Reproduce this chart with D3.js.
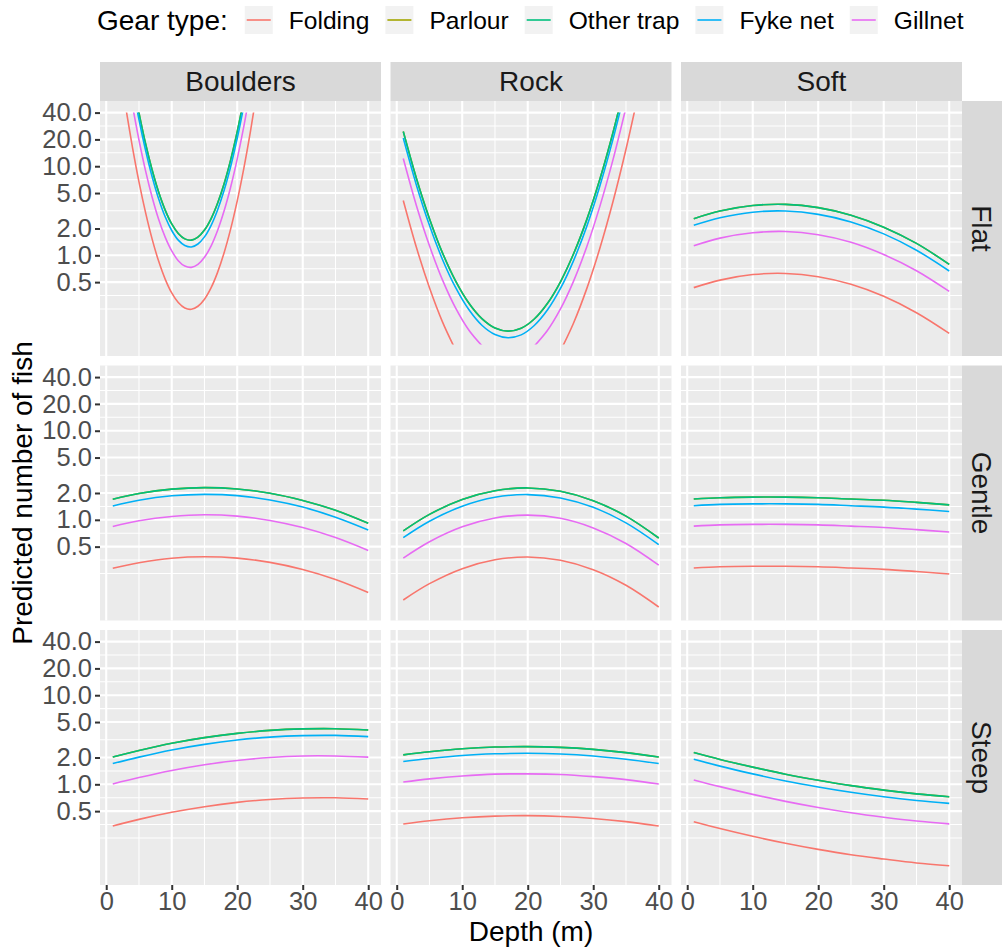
<!DOCTYPE html>
<html>
<head>
<meta charset="utf-8">
<script src="https://cdn.jsdelivr.net/npm/d3@7"></script>
<style>
  body { margin: 0; background: #ffffff; }
  text { font-family: "Liberation Sans", Arial, Helvetica, sans-serif; }
</style>
</head>
<body>
<svg id="chart" width="1002" height="950"></svg>
<script>
// ---- categories ----
const gears = ["Folding", "Parlour", "Other trap", "Fyke net", "Gillnet"];
const gearColors = ["#F8766D", "#A3A500", "#00BF7D", "#00B0F6", "#E76BF3"];
const substrates = ["Boulders", "Rock", "Soft"];
const slopes = ["Flat", "Gentle", "Steep"];

// ---- axis breaks ----
const yTicks = [0.5, 1, 2, 5, 10, 20, 40];
const yLimits = [0.1, 40];
const xTicks = [0, 10, 20, 30, 40];
const depthRange = [1, 40];

// ---- depths at which predictions are listed ----
const depthGrid = [1, 5, 10, 15, 20, 25, 30, 35, 40];
const depthBouldersFlat = [3, 4, 5, 6, 7, 8, 9, 10, 11, 12, 13, 14, 15, 16, 17, 18, 19, 20, 21, 22, 23];
const depthRockFlat = [1, 3, 5, 7, 9, 11, 13, 15, 17, 19, 21, 23, 25, 27, 29, 31, 33, 35, 37, 39];

// ---- predicted number of fish (null = outside the plotted range) ----
const bouldersFlat = {
  "Folding":    [44.8, 16.4, 6.67, 3.03, 1.53, 0.861, 0.541, 0.378, 0.295, 0.256, 0.248, 0.268, 0.322, 0.431, 0.644, 1.07, 1.98, 4.09, 9.42, 24.2, 69.0],
  "Parlour":    [null, 97.5, 39.7, 18.0, 9.12, 5.13, 3.22, 2.25, 1.76, 1.53, 1.48, 1.60, 1.92, 2.57, 3.84, 6.37, 11.8, 24.4, 56.1, null, null],
  "Other trap": [null, 97.5, 39.7, 18.0, 9.12, 5.13, 3.22, 2.25, 1.76, 1.53, 1.48, 1.60, 1.92, 2.57, 3.84, 6.37, 11.8, 24.4, 56.1, null, null],
  "Fyke net":   [null, 82.0, 33.4, 15.2, 7.67, 4.32, 2.71, 1.90, 1.48, 1.29, 1.24, 1.34, 1.61, 2.16, 3.23, 5.36, 9.93, 20.5, 47.2, null, null],
  "Gillnet":    [null, 48.3, 19.7, 8.93, 4.52, 2.54, 1.60, 1.12, 0.871, 0.757, 0.733, 0.791, 0.951, 1.27, 1.90, 3.16, 5.85, 12.1, 27.8, 71.3, null]
};
const rockFlat = {
  "Folding":    [4.12, 1.23, 0.433, 0.178, 0.0863, null, null, null, null, null, null, null, 0.0847, 0.174, 0.420, 1.19, 3.96, 15.5, 71.1, null],
  "Parlour":    [24.5, 7.33, 2.58, 1.06, 0.514, 0.292, 0.195, 0.153, 0.141, 0.152, 0.193, 0.288, 0.505, 1.04, 2.50, 7.10, 23.6, 92.3, null, null],
  "Other trap": [24.5, 7.33, 2.58, 1.06, 0.514, 0.292, 0.195, 0.153, 0.141, 0.152, 0.193, 0.288, 0.505, 1.04, 2.50, 7.10, 23.6, 92.3, null, null],
  "Fyke net":   [20.7, 6.17, 2.17, 0.893, 0.433, 0.246, 0.164, 0.129, 0.119, 0.128, 0.163, 0.243, 0.425, 0.873, 2.10, 5.97, 19.9, 77.6, null, null],
  "Gillnet":    [12.2, 3.63, 1.28, 0.526, 0.255, 0.145, 0.0968, null, null, null, 0.0957, 0.143, 0.250, 0.514, 1.24, 3.52, 11.7, 45.7, null, null]
};
const softFlat = {
  "Folding":    [0.434, 0.527, 0.608, 0.626, 0.575, 0.473, 0.347, 0.227, 0.133],
  "Parlour":    [2.58, 3.14, 3.62, 3.73, 3.43, 2.82, 2.07, 1.36, 0.792],
  "Other trap": [2.58, 3.14, 3.62, 3.73, 3.43, 2.82, 2.07, 1.36, 0.792],
  "Fyke net":   [2.17, 2.64, 3.05, 3.14, 2.88, 2.37, 1.74, 1.14, 0.667],
  "Gillnet":    [1.28, 1.56, 1.79, 1.85, 1.70, 1.40, 1.02, 0.671, 0.393]
};
const bouldersGentle = {
  "Folding":    [0.286, 0.330, 0.371, 0.385, 0.372, 0.333, 0.277, 0.214, 0.153],
  "Parlour":    [1.70, 1.97, 2.21, 2.30, 2.22, 1.99, 1.65, 1.28, 0.914],
  "Other trap": [1.70, 1.97, 2.21, 2.30, 2.22, 1.99, 1.65, 1.28, 0.914],
  "Fyke net":   [1.43, 1.66, 1.86, 1.93, 1.87, 1.67, 1.39, 1.07, 0.769],
  "Gillnet":    [0.843, 0.975, 1.09, 1.14, 1.10, 0.984, 0.818, 0.632, 0.453]
};
const rockGentle = {
  "Folding":    [0.126, 0.192, 0.283, 0.356, 0.383, 0.351, 0.275, 0.184, 0.105],
  "Parlour":    [0.750, 1.15, 1.69, 2.12, 2.28, 2.09, 1.64, 1.10, 0.625],
  "Other trap": [0.750, 1.15, 1.69, 2.12, 2.28, 2.09, 1.64, 1.10, 0.625],
  "Fyke net":   [0.631, 0.964, 1.42, 1.79, 1.92, 1.76, 1.38, 0.923, 0.526],
  "Gillnet":    [0.372, 0.568, 0.836, 1.05, 1.13, 1.04, 0.811, 0.543, 0.310]
};
const softGentle = {
  "Folding":    [0.288, 0.297, 0.301, 0.301, 0.297, 0.288, 0.278, 0.263, 0.247],
  "Parlour":    [1.71, 1.77, 1.80, 1.80, 1.77, 1.71, 1.66, 1.57, 1.47],
  "Other trap": [1.71, 1.77, 1.80, 1.80, 1.77, 1.71, 1.66, 1.57, 1.47],
  "Fyke net":   [1.44, 1.49, 1.51, 1.51, 1.49, 1.44, 1.39, 1.32, 1.24],
  "Gillnet":    [0.849, 0.877, 0.889, 0.889, 0.877, 0.849, 0.820, 0.776, 0.729]
};
const bouldersSteep = {
  "Folding":    [0.340, 0.404, 0.485, 0.561, 0.627, 0.676, 0.703, 0.706, 0.684],
  "Parlour":    [2.03, 2.40, 2.89, 3.34, 3.73, 4.03, 4.19, 4.21, 4.07],
  "Other trap": [2.03, 2.40, 2.89, 3.34, 3.73, 4.03, 4.19, 4.21, 4.07],
  "Fyke net":   [1.71, 2.02, 2.43, 2.81, 3.14, 3.39, 3.52, 3.54, 3.43],
  "Gillnet":    [1.01, 1.19, 1.43, 1.66, 1.85, 2.00, 2.08, 2.08, 2.02]
};
const rockSteep = {
  "Folding":    [0.359, 0.390, 0.421, 0.440, 0.445, 0.436, 0.414, 0.381, 0.340],
  "Parlour":    [2.14, 2.32, 2.51, 2.62, 2.65, 2.60, 2.47, 2.27, 2.03],
  "Other trap": [2.14, 2.32, 2.51, 2.62, 2.65, 2.60, 2.47, 2.27, 2.03],
  "Fyke net":   [1.80, 1.95, 2.11, 2.20, 2.23, 2.19, 2.08, 1.91, 1.71],
  "Gillnet":    [1.06, 1.15, 1.24, 1.30, 1.31, 1.29, 1.22, 1.13, 1.01]
};
const softSteep = {
  "Folding":    [0.380, 0.319, 0.261, 0.218, 0.186, 0.162, 0.145, 0.131, 0.122],
  "Parlour":    [2.27, 1.90, 1.56, 1.30, 1.11, 0.966, 0.861, 0.782, 0.726],
  "Other trap": [2.27, 1.90, 1.56, 1.30, 1.11, 0.966, 0.861, 0.782, 0.726],
  "Fyke net":   [1.91, 1.60, 1.31, 1.09, 0.933, 0.813, 0.724, 0.658, 0.611],
  "Gillnet":    [1.12, 0.942, 0.771, 0.644, 0.550, 0.479, 0.427, 0.387, 0.360]
};

// facet layout: rows = slope, columns = substrate
const panels = [
  { row: 0, col: 0, depths: depthBouldersFlat, values: bouldersFlat },
  { row: 0, col: 1, depths: depthRockFlat,     values: rockFlat },
  { row: 0, col: 2, depths: depthGrid,         values: softFlat },
  { row: 1, col: 0, depths: depthGrid,         values: bouldersGentle },
  { row: 1, col: 1, depths: depthGrid,         values: rockGentle },
  { row: 1, col: 2, depths: depthGrid,         values: softGentle },
  { row: 2, col: 0, depths: depthGrid,         values: bouldersSteep },
  { row: 2, col: 1, depths: depthGrid,         values: rockSteep },
  { row: 2, col: 2, depths: depthGrid,         values: softSteep }
];

// ---- geometry ----
const svg = d3.select("#chart");
const panelW = 281, panelH = 255, gap = 9.5;
const gridLeft = 100, gridTop = 101;
const stripH = 39, stripW = 40;
const panelX = i => gridLeft + i * (panelW + gap);
const panelY = j => gridTop + j * (panelH + gap);
const gridRight = panelX(2) + panelW;
const gridBottom = panelY(2) + panelH;

// ---- scales (5% expansion, as in the source plot) ----
const xPad = 0.05 * (depthRange[1] - depthRange[0]);
const x = d3.scaleLinear()
  .domain([depthRange[0] - xPad, depthRange[1] + xPad])
  .range([0, panelW]);

const logLo = Math.log10(yLimits[0]), logHi = Math.log10(yLimits[1]);
const yPad = 0.05 * (logHi - logLo);
const y = d3.scaleLog()
  .domain([Math.pow(10, logLo - yPad), Math.pow(10, logHi + yPad)])
  .range([panelH, 0]);

// minor breaks: midpoints between majors (in log space for y)
function minorBreaks(majors, lo, hi, toT, fromT) {
  const b = majors.map(toT);
  const bd = b[1] - b[0];
  const ext = [b[0] - bd, ...b, b[b.length - 1] + bd];
  const out = [];
  for (let k = 0; k < ext.length - 1; k++) out.push((ext[k] + ext[k + 1]) / 2);
  out.push(ext[0]);
  return out.filter(v => v >= toT(lo) && v <= toT(hi) && !b.some(m => Math.abs(m - v) < 1e-9)).map(fromT);
}
const yMinor = minorBreaks(yTicks, y.domain()[0], y.domain()[1], Math.log10, v => Math.pow(10, v));
const xMinor = minorBreaks(xTicks, x.domain()[0], x.domain()[1], v => v, v => v);

const line = d3.line()
  .defined(d => d[1] != null)
  .x(d => x(d[0]))
  .y(d => y(d[1]))
  .curve(d3.curveCatmullRom.alpha(0.5));

const defs = svg.append("defs");
defs.append("clipPath").attr("id", "ylim")
  .append("rect")
  .attr("x", -2).attr("width", panelW + 4)
  .attr("y", y(yLimits[1])).attr("height", y(yLimits[0]) - y(yLimits[1]));

// ---- panels ----
panels.forEach(p => {
  const g = svg.append("g").attr("transform", `translate(${panelX(p.col)},${panelY(p.row)})`);
  g.append("rect").attr("width", panelW).attr("height", panelH).attr("fill", "#EBEBEB");

  g.selectAll(".ymin").data(yMinor).join("line")
    .attr("x1", 0).attr("x2", panelW).attr("y1", d => y(d)).attr("y2", d => y(d))
    .attr("stroke", "#ffffff").attr("stroke-width", 1.05);
  g.selectAll(".xmin").data(xMinor).join("line")
    .attr("y1", 0).attr("y2", panelH).attr("x1", d => x(d)).attr("x2", d => x(d))
    .attr("stroke", "#ffffff").attr("stroke-width", 1.05);
  g.selectAll(".ymaj").data(yTicks).join("line")
    .attr("x1", 0).attr("x2", panelW).attr("y1", d => y(d)).attr("y2", d => y(d))
    .attr("stroke", "#ffffff").attr("stroke-width", 2.1);
  g.selectAll(".xmaj").data(xTicks).join("line")
    .attr("y1", 0).attr("y2", panelH).attr("x1", d => x(d)).attr("x2", d => x(d))
    .attr("stroke", "#ffffff").attr("stroke-width", 2.1);

  const lines = g.append("g").attr("clip-path", "url(#ylim)");
  gears.forEach((gear, k) => {
    const pts = p.depths.map((d, i) => [d, p.values[gear][i]]);
    lines.append("path")
      .attr("d", line(pts))
      .attr("fill", "none")
      .attr("stroke", gearColors[k])
      .attr("stroke-width", 1.6);
  });

  // axes on the outer panels only
  if (p.col === 0) {
    const ax = g.append("g")
      .call(d3.axisLeft(y).tickValues(yTicks).tickFormat(d3.format(".1f")).tickSize(5).tickPadding(3));
    ax.select(".domain").remove();
    ax.selectAll("line").attr("stroke", "#333333").attr("stroke-width", 2);
    ax.selectAll("text").attr("fill", "#4D4D4D").style("font-size", "25.5px")
      .attr("font-family", null);
  }
  if (p.row === 2) {
    const ax = g.append("g").attr("transform", `translate(0,${panelH})`)
      .call(d3.axisBottom(x).tickValues(xTicks).tickFormat(d3.format("d")).tickSize(5).tickPadding(2));
    ax.select(".domain").remove();
    ax.selectAll("line").attr("stroke", "#333333").attr("stroke-width", 2);
    ax.selectAll("text").attr("fill", "#4D4D4D").style("font-size", "25.5px")
      .attr("font-family", null);
  }
});

// ---- facet strips ----
substrates.forEach((s, i) => {
  svg.append("rect").attr("x", panelX(i)).attr("y", gridTop - stripH)
    .attr("width", panelW).attr("height", stripH).attr("fill", "#D9D9D9");
  svg.append("text").attr("x", panelX(i) + panelW / 2).attr("y", gridTop - stripH / 2)
    .attr("dy", "0.355em").attr("text-anchor", "middle")
    .attr("fill", "#1A1A1A").style("font-size", "28px").text(s);
});
slopes.forEach((s, j) => {
  svg.append("rect").attr("x", gridRight).attr("y", panelY(j))
    .attr("width", stripW).attr("height", panelH).attr("fill", "#D9D9D9");
  const cx = gridRight + stripW / 2, cy = panelY(j) + panelH / 2;
  svg.append("text").attr("transform", `translate(${cx},${cy}) rotate(90)`)
    .attr("dy", "0.355em").attr("text-anchor", "middle")
    .attr("fill", "#1A1A1A").style("font-size", "28px").text(s);
});

// ---- axis titles ----
svg.append("text")
  .attr("x", (gridLeft + gridRight) / 2).attr("y", 941)
  .attr("text-anchor", "middle").attr("fill", "#000000").style("font-size", "28px")
  .text("Depth (m)");
svg.append("text")
  .attr("transform", `translate(32,${(gridTop + gridBottom) / 2}) rotate(-90)`)
  .attr("text-anchor", "middle").attr("fill", "#000000").style("font-size", "28px")
  .text("Predicted number of fish");

// ---- legend ----
const legend = svg.append("g");
const legY = 20;
const legTitle = legend.append("text").attr("x", 97).attr("y", legY).attr("dy", "0.355em")
  .attr("fill", "#000000").style("font-size", "28px").text("Gear type:");
let cursor = 97 + legTitle.node().getComputedTextLength() + 17;
gears.forEach((gear, k) => {
  legend.append("rect").attr("x", cursor).attr("y", legY - 14)
    .attr("width", 28).attr("height", 28).attr("fill", "#F2F2F2");
  legend.append("line").attr("x1", cursor + 2).attr("x2", cursor + 26)
    .attr("y1", legY).attr("y2", legY)
    .attr("stroke", gearColors[k]).attr("stroke-width", 1.6);
  const t = legend.append("text").attr("x", cursor + 44).attr("y", legY).attr("dy", "0.355em")
    .attr("fill", "#000000").style("font-size", "24.6px").text(gear);
  cursor += 44 + t.node().getComputedTextLength() + 16;
});
</script>
</body>
</html>
